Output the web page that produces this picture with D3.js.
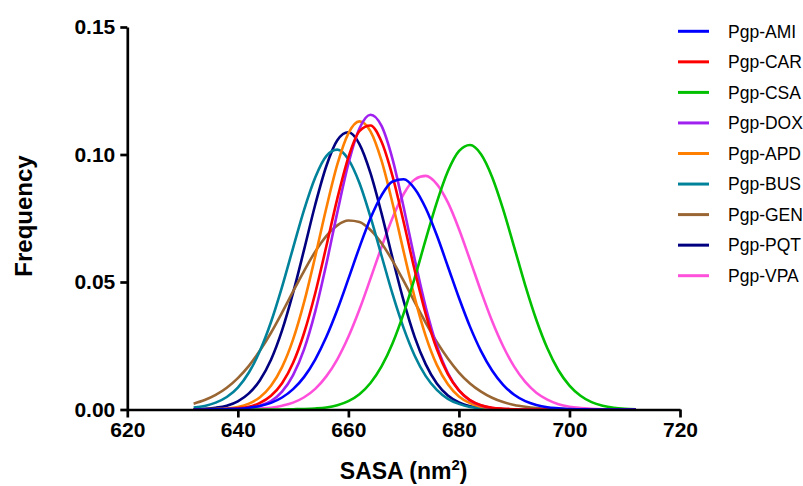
<!DOCTYPE html>
<html>
<head>
<meta charset="utf-8">
<script src="https://cdn.jsdelivr.net/npm/d3@7"></script>
<style>
  body { margin: 0; background: #fff; }
  svg { display: block; font-family: Arial, "Liberation Sans", sans-serif; }
</style>
</head>
<body>
<div id="chart"></div>
<script>
// SASA grid (nm^2)
var sasa = [632, 634, 636, 638, 640, 642, 644, 646, 648, 650,
    652, 654, 656, 658, 660, 662, 664, 666, 668, 670,
    672, 674, 676, 678, 680, 682, 684, 686, 688, 690,
    692, 694, 696, 698, 700, 702, 704, 706, 708, 710, 712];

// frequency
var pgpAMI = [0, 0, 0.0001, 0.0002, 0.0003, 0.0007, 0.0014, 0.0026, 0.0047, 0.0080,
    0.0128, 0.0196, 0.0284, 0.0391, 0.0512, 0.0636, 0.0750, 0.0840, 0.0894, 0.0903,
    0.0866, 0.0789, 0.0683, 0.0561, 0.0438, 0.0325, 0.0229, 0.0153, 0.0097, 0.0058,
    0.0033, 0.0018, 0.0009, 0.0005, 0.0002, 0.0001, 0, 0, 0, 0, 0];
var pgpCAR = [0, 0, 0.0001, 0.0002, 0.0005, 0.0011, 0.0026, 0.0054, 0.0103, 0.0183,
    0.0301, 0.0456, 0.0639, 0.0827, 0.0989, 0.1092, 0.1114, 0.1050, 0.0914, 0.0735,
    0.0546, 0.0374, 0.0237, 0.0139, 0.0075, 0.0037, 0.0017, 0.0007, 0.0003, 0.0001,
    0, 0, 0, 0, 0, 0, 0, 0, 0, 0, 0];
var pgpCSA = [0, 0, 0, 0, 0, 0, 0, 0, 0, 0.0001,
    0.0002, 0.0004, 0.0008, 0.0017, 0.0033, 0.0060, 0.0104, 0.0169, 0.0260, 0.0377,
    0.0516, 0.0667, 0.0812, 0.0934, 0.1013, 0.1037, 0.1001, 0.0912, 0.0785, 0.0637,
    0.0487, 0.0352, 0.0240, 0.0154, 0.0094, 0.0054, 0.0029, 0.0015, 0.0007, 0.0003, 0.0001];
var pgpDOX = [0, 0, 0, 0.0001, 0.0002, 0.0006, 0.0015, 0.0033, 0.0070, 0.0135,
    0.0237, 0.0384, 0.0569, 0.0773, 0.0964, 0.1102, 0.1156, 0.1112, 0.0981, 0.0793,
    0.0589, 0.0401, 0.0250, 0.0143, 0.0075, 0.0036, 0.0016, 0.0006, 0.0002, 0.0001,
    0, 0, 0, 0, 0, 0, 0, 0, 0, 0, 0];
var pgpAPD = [0, 0.0001, 0.0002, 0.0004, 0.0010, 0.0023, 0.0048, 0.0093, 0.0166, 0.0275,
    0.0422, 0.0600, 0.0789, 0.0961, 0.1083, 0.1130, 0.1091, 0.0976, 0.0808, 0.0619,
    0.0439, 0.0288, 0.0175, 0.0099, 0.0051, 0.0025, 0.0011, 0.0005, 0.0002, 0.0001,
    0, 0, 0, 0, 0, 0, 0, 0, 0, 0, 0];
var pgpBUS = [0.0008, 0.0014, 0.0027, 0.0049, 0.0086, 0.0145, 0.0230, 0.0343, 0.0481, 0.0634,
    0.0784, 0.0910, 0.0994, 0.1019, 0.0981, 0.0888, 0.0755, 0.0603, 0.0452, 0.0319,
    0.0211, 0.0131, 0.0077, 0.0042, 0.0022, 0.0010, 0.0005, 0.0002, 0.0001, 0,
    0, 0, 0, 0, 0, 0, 0, 0, 0, 0, 0];
var pgpGEN = [0.0023, 0.0037, 0.0057, 0.0085, 0.0123, 0.0171, 0.0231, 0.0301, 0.0380, 0.0463,
    0.0544, 0.0619, 0.0680, 0.0722, 0.0741, 0.0735, 0.0704, 0.0652, 0.0583, 0.0504,
    0.0421, 0.0340, 0.0265, 0.0200, 0.0145, 0.0102, 0.0070, 0.0046, 0.0029, 0.0018,
    0.0011, 0.0006, 0.0003, 0.0002, 0.0001, 0, 0, 0, 0, 0, 0];
var pgpPQT = [0.0001, 0.0003, 0.0007, 0.0015, 0.0032, 0.0063, 0.0115, 0.0195, 0.0310, 0.0458,
    0.0628, 0.0803, 0.0954, 0.1056, 0.1087, 0.1041, 0.0927, 0.0769, 0.0593, 0.0426,
    0.0284, 0.0177, 0.0102, 0.0055, 0.0028, 0.0013, 0.0006, 0.0002, 0.0001, 0,
    0, 0, 0, 0, 0, 0, 0, 0, 0, 0, 0];
var pgpVPA = [0, 0, 0, 0, 0.0001, 0.0002, 0.0004, 0.0007, 0.0015, 0.0027,
    0.0048, 0.0081, 0.0130, 0.0197, 0.0285, 0.0392, 0.0513, 0.0637, 0.0752, 0.0845,
    0.0902, 0.0916, 0.0884, 0.0812, 0.0708, 0.0587, 0.0463, 0.0347, 0.0248, 0.0168,
    0.0108, 0.0066, 0.0039, 0.0021, 0.0011, 0.0006, 0.0003, 0.0001, 0, 0, 0];

var names = ["Pgp-AMI", "Pgp-CAR", "Pgp-CSA", "Pgp-DOX", "Pgp-APD", "Pgp-BUS", "Pgp-GEN", "Pgp-PQT", "Pgp-VPA"];
var colors = ["#0000ff", "#ff0000", "#00c000", "#a020f0", "#ff8000", "#00829b", "#996633", "#000080", "#ff50dc"];
var values = [pgpAMI, pgpCAR, pgpCSA, pgpDOX, pgpAPD, pgpBUS, pgpGEN, pgpPQT, pgpVPA];

var xTicks = [620, 640, 660, 680, 700, 720];
var yTicks = [0, 0.05, 0.10, 0.15];

var margin = { top: 27, right: 123, bottom: 76.5, left: 127.3 },
    width = 803 - margin.left - margin.right,
    height = 486 - margin.top - margin.bottom;

var svg = d3.select("#chart")
    .append("svg")
    .attr("width", 803)
    .attr("height", 486);

var g = svg.append("g")
    .attr("transform", "translate(" + margin.left + "," + margin.top + ")");

var x = d3.scaleLinear().domain([620, 720]).range([0, width]);
var y = d3.scaleLinear().domain([0, 0.15]).range([height, 0]);

var line = d3.line()
    .x(function (d) { return x(d[0]); })
    .y(function (d) { return y(d[1]); })
    .curve(d3.curveMonotoneX);

// build series, first one drawn last so it sits on top
var series = names.map(function (n, i) {
    return {
        name: n,
        color: colors[i],
        points: sasa.map(function (s, j) { return [s, values[i][j]]; })
    };
});

g.selectAll("path.curve")
    .data(series.slice().reverse())
    .enter()
    .append("path")
    .attr("class", "curve")
    .attr("d", function (d) { return line(d.points); })
    .style("fill", "none")
    .style("stroke", function (d) { return d.color; })
    .style("stroke-width", 2.6);

// axes
var xAxis = g.append("g")
    .attr("transform", "translate(0," + height + ")")
    .call(d3.axisBottom(x).tickValues(xTicks).tickSize(8).tickSizeOuter(0).tickPadding(5).tickFormat(d3.format("d")));
var yAxis = g.append("g")
    .call(d3.axisLeft(y).tickValues(yTicks).tickSize(7).tickSizeOuter(0).tickPadding(5).tickFormat(d3.format(".2f")));

[xAxis, yAxis].forEach(function (a) {
    a.selectAll("path, line").style("stroke", "#000").style("stroke-width", 2.7);
    a.selectAll("text")
        .style("font-family", "Arial, 'Liberation Sans', sans-serif")
        .style("font-size", "21px")
        .style("font-weight", "bold")
        .style("fill", "#000");
});

// axis titles
svg.append("text")
    .attr("transform", "translate(32,216) rotate(-90)")
    .attr("text-anchor", "middle")
    .style("font-size", "24px")
    .style("font-weight", "bold")
    .text("Frequency");

var xTitle = svg.append("text")
    .attr("x", margin.left + width / 2)
    .attr("y", 479)
    .attr("text-anchor", "middle")
    .style("font-size", "23px")
    .style("font-weight", "bold");
xTitle.append("tspan").text("SASA (nm");
xTitle.append("tspan").attr("dy", -9).style("font-size", "15px").text("2");
xTitle.append("tspan").attr("dy", 9).text(")");

// legend
var legend = svg.selectAll("g.legend")
    .data(series)
    .enter()
    .append("g")
    .attr("class", "legend")
    .attr("transform", function (d, i) { return "translate(678," + (31.3 + i * 30.55) + ")"; });

legend.append("line")
    .attr("x1", 0)
    .attr("x2", 31)
    .style("stroke", function (d) { return d.color; })
    .style("stroke-width", 3);

legend.append("text")
    .attr("x", 50)
    .attr("dy", "0.36em")
    .style("font-size", "17.5px")
    .text(function (d) { return d.name; });
</script>
</body>
</html>
